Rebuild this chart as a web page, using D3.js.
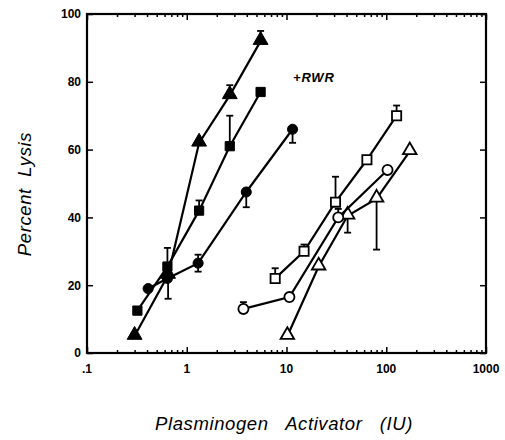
<!DOCTYPE html>
<html>
<head>
<meta charset="utf-8">
<script src="https://cdn.jsdelivr.net/npm/d3@7"></script>
<style>
  body { margin: 0; background: #fff; }
  svg { display: block; }
  text { font-family: "Liberation Sans", Arial, sans-serif; fill: #000; white-space: pre; }
  .tickLab { font-size: 12px; font-weight: bold; }
  .axTitle { font-size: 18.5px; font-style: italic; letter-spacing: 0.6px; }
</style>
</head>
<body>
<div id="chart"></div>
<script>
// data: x = plasminogen activator (IU), y = percent lysis
// filled triangles
var triFX = [0.3, 0.65, 1.33, 2.7, 5.5];
var triFY = [5, 23, 62, 76, 92];
var triFErr = [null, [16, 23], null, [76, 79], [92, 95]];
// filled squares
var sqFX = [0.32, 0.64, 1.33, 2.7, 5.5];
var sqFY = [12.5, 25.5, 42, 61, 77];
var sqFErr = [null, [25.5, 31], [42, 45], [61, 70], null];
// filled circles
var cirFX = [0.41, 0.64, 1.3, 3.95, 11.5];
var cirFY = [19, 22, 26.5, 47.5, 66];
var cirFErr = [null, null, [24, 29], [43, 47.5], [62, 66]];
// open squares (+RWR)
var sqOX = [7.7, 15, 31, 64, 127];
var sqOY = [22, 30, 44.5, 57, 70];
var sqOErr = [[22, 25], [30, 32], [44.5, 52], null, [70, 73]];
// open circles (+RWR)
var cirOX = [3.7, 10.7, 33, 103];
var cirOY = [13, 16.5, 40, 54];
var cirOErr = [[13, 15], null, [40, 42.5], null];
// open triangles (+RWR)
var triOX = [10.2, 21, 41, 80, 172];
var triOY = [5, 25.5, 40.5, 45.5, 59.5];
var triOErr = [null, null, [35.5, 40.5], [30.5, 45.5], null];

var xTickVals = [0.1, 1, 10, 100, 1000];
var xTickLabels = [".1", "1", "10", "100", "1000"];
var yTickVals = [0, 20, 40, 60, 80, 100];

var width = 505, height = 440;
// plot frame edges (don't call it "top", that's window.top)
var pLeft = 87, pRight = 486, pTop = 14, pBottom = 353;

var svg = d3.select("#chart").append("svg")
  .attr("width", width)
  .attr("height", height);

var x = d3.scaleLog().domain([0.1, 1000]).range([pLeft, pRight]);
var y = d3.scaleLinear().domain([0, 100]).range([pBottom, pTop]);

// all log ticks, decades get long ticks
var allX = x.ticks();
function isDecade(v) { return xTickVals.some(function(d) { return Math.abs(d - v) < 1e-9; }); }

// bottom axis
var gb = svg.append("g").attr("transform", "translate(0," + pBottom + ")")
  .call(d3.axisBottom(x).tickValues(allX).tickSize(0).tickFormat(""));
gb.select(".domain").remove();
gb.selectAll(".tick line").attr("y2", function(d) { return isDecade(d) ? -6 : -3; })
  .attr("stroke-width", 1.5);
gb.selectAll(".tick text").remove();
svg.append("g").selectAll("text").data(xTickVals).join("text")
  .attr("class", "tickLab")
  .attr("x", function(d) { return x(d); })
  .attr("y", pBottom + 20)
  .attr("text-anchor", "middle")
  .text(function(d, i) { return xTickLabels[i]; });

// top axis
var gt = svg.append("g").attr("transform", "translate(0," + pTop + ")")
  .call(d3.axisTop(x).tickValues(allX).tickSize(0).tickFormat(""));
gt.select(".domain").remove();
gt.selectAll(".tick line").attr("y2", function(d) { return isDecade(d) ? 6 : 3; })
  .attr("stroke-width", 1.5);

// left axis
var gl = svg.append("g").attr("transform", "translate(" + pLeft + ",0)")
  .call(d3.axisLeft(y).tickValues(yTickVals).tickSizeInner(-6).tickSizeOuter(0).tickPadding(6));
gl.select(".domain").remove();
gl.selectAll(".tick line").attr("stroke-width", 1.5);
gl.selectAll(".tick text").attr("class", "tickLab");
gl.attr("font-family", null).attr("font-size", null);

// right axis
var gr = svg.append("g").attr("transform", "translate(" + pRight + ",0)")
  .call(d3.axisRight(y).tickValues(yTickVals).tickSizeInner(-6).tickSizeOuter(0).tickFormat(""));
gr.select(".domain").remove();
gr.selectAll(".tick line").attr("stroke-width", 1.5);

// frame
svg.append("rect")
  .attr("x", pLeft).attr("y", pTop)
  .attr("width", pRight - pLeft).attr("height", pBottom - pTop)
  .attr("fill", "none").attr("stroke", "#000").attr("stroke-width", 2.2);

// axis titles
svg.append("text").attr("class", "axTitle")
  .attr("transform", "translate(31,194)rotate(-90)")
  .attr("text-anchor", "middle")
  .text("Percent  Lysis");
svg.append("text").attr("class", "axTitle")
  .attr("x", 284).attr("y", 430)
  .attr("text-anchor", "middle")
  .text("Plasminogen   Activator   (IU)");

svg.append("text")
  .attr("x", 293).attr("y", 82)
  .attr("font-size", 13).attr("font-weight", "bold").attr("font-style", "italic")
  .attr("letter-spacing", 0.8)
  .text("+RWR");

var line = d3.line().x(function(d) { return x(d[0]); }).y(function(d) { return y(d[1]); });

function drawSeries(xs, ys, errs, shape, filled) {
  var pts = xs.map(function(v, i) { return [v, ys[i]]; });
  var g = svg.append("g");
  g.append("path").datum(pts).attr("d", line)
    .attr("fill", "none").attr("stroke", "#000").attr("stroke-width", 2.2);
  // error bars
  var eb = errs.map(function(e, i) { return e ? { x: xs[i], lo: e[0], hi: e[1] } : null; })
    .filter(function(e) { return e; });
  var ge = g.selectAll(".err").data(eb).join("g");
  ge.append("line")
    .attr("x1", function(d) { return x(d.x); }).attr("x2", function(d) { return x(d.x); })
    .attr("y1", function(d) { return y(d.lo); }).attr("y2", function(d) { return y(d.hi); })
    .attr("stroke", "#000").attr("stroke-width", 1.8);
  ["lo", "hi"].forEach(function(k) {
    ge.append("line")
      .attr("x1", function(d) { return x(d.x) - 3.5; }).attr("x2", function(d) { return x(d.x) + 3.5; })
      .attr("y1", function(d) { return y(d[k]); }).attr("y2", function(d) { return y(d[k]); })
      .attr("stroke", "#000").attr("stroke-width", 1.8);
  });
  var sym = shape === "triangle" ? d3.symbolTriangle : shape === "square" ? d3.symbolSquare : d3.symbolCircle;
  var size = shape === "triangle" ? (filled ? 95 : 80) : shape === "square" ? 85 : 80;
  g.selectAll(".pt").data(pts).join("path")
    .attr("transform", function(d) {
      var dy = shape === "triangle" ? -1 : 0;
      return "translate(" + x(d[0]) + "," + (y(d[1]) + dy) + ")";
    })
    .attr("d", d3.symbol().type(sym).size(size))
    .attr("fill", filled ? "#000" : "#fff")
    .attr("stroke", "#000").attr("stroke-width", filled ? 1 : 1.8);
}

drawSeries(cirFX, cirFY, cirFErr, "circle", true);
drawSeries(sqFX, sqFY, sqFErr, "square", true);
drawSeries(triFX, triFY, triFErr, "triangle", true);
drawSeries(triOX, triOY, triOErr, "triangle", false);
drawSeries(cirOX, cirOY, cirOErr, "circle", false);
drawSeries(sqOX, sqOY, sqOErr, "square", false);
</script>
</body>
</html>
